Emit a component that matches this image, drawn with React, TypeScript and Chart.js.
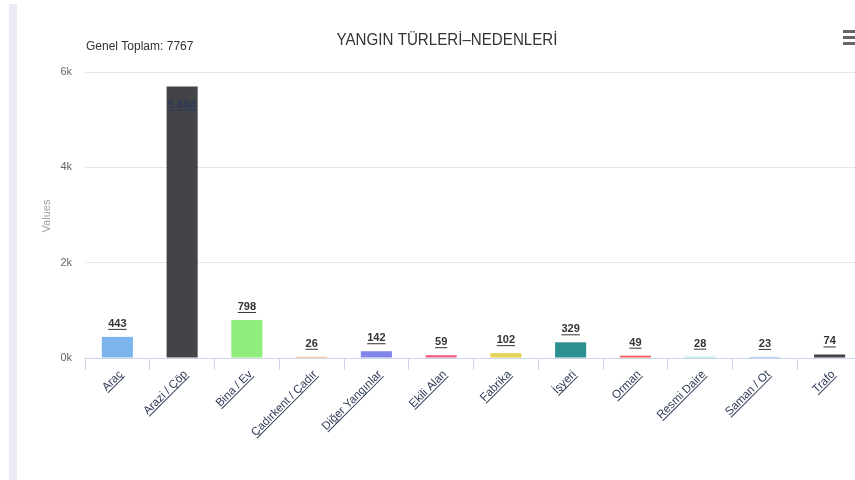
import React, { useEffect, useRef } from "react";
import { Chart, registerables } from "chart.js";

Chart.register(...registerables);

const categories = [
  "Araç",
  "Arazi / Çöp",
  "Bina / Ev",
  "Çadırkent / Çadır",
  "Diğer Yangınlar",
  "Ekili Alan",
  "Fabrika",
  "İşyeri",
  "Orman",
  "Resmi Daire",
  "Saman / Ot",
  "Trafo",
];
const values = [443, 5694, 798, 26, 142, 59, 102, 329, 49, 28, 23, 74];
const barColors = [
  "#7cb5ec",
  "#434348",
  "#90ed7d",
  "#f7a35c",
  "#8085e9",
  "#f15c80",
  "#e4d354",
  "#2b908f",
  "#f45b5b",
  "#91e8e1",
  "#7cb5ec",
  "#434348",
];
const yTickValues = [0, 2000, 4000, 6000];
const titleText = "YANGIN TÜRLERİ–NEDENLERİ";
const subtitleText = "Genel Toplam: 7767";
const yAxisTitle = "Values";

const FONT = '"Liberation Sans", Arial, sans-serif';

function formatValue(v: number): string {
  const s = String(v);
  return s.replace(/\B(?=(\d{3})+(?!\d))/g, ".");
}

const decorPlugin = {
  id: "decor",
  beforeDraw(chart: any) {
    const ctx = chart.ctx as CanvasRenderingContext2D;
    ctx.save();
    ctx.fillStyle = "#ffffff";
    ctx.fillRect(0, 0, chart.width, chart.height);
    ctx.fillStyle = "#ecebf5";
    ctx.fillRect(9, 4, 8, chart.height - 4);
    ctx.restore();
  },
  afterDraw(chart: any) {
    const ctx = chart.ctx as CanvasRenderingContext2D;
    const area = chart.chartArea;
    const xScale = chart.scales.x;
    const meta = chart.getDatasetMeta(0);

    ctx.save();
    // Title
    ctx.font = `16px ${FONT}`;
    ctx.fillStyle = "#333333";
    ctx.textAlign = "center";
    ctx.textBaseline = "alphabetic";
    const tw = ctx.measureText(titleText).width;
    const sx = 221 / tw;
    ctx.save();
    ctx.translate(447, 45);
    ctx.scale(sx, 1);
    ctx.fillText(titleText, 0, 0);
    ctx.restore();

    // Subtitle
    ctx.font = `12px ${FONT}`;
    ctx.textAlign = "left";
    ctx.fillStyle = "#333333";
    ctx.fillText(subtitleText, 86, 50);

    // Menu icon
    ctx.fillStyle = "#666666";
    [30, 36, 42].forEach((y) => ctx.fillRect(843, y, 14, 3));

    // Y axis title
    ctx.save();
    ctx.translate(47, (area.top + area.bottom) / 2 + 1);
    ctx.rotate(-Math.PI / 2);
    ctx.font = `11px ${FONT}`;
    ctx.fillStyle = "#a0a0a0";
    ctx.textAlign = "center";
    ctx.textBaseline = "middle";
    ctx.fillText(yAxisTitle, 0, 0);
    ctx.restore();

    // Data labels
    ctx.font = `bold 11px ${FONT}`;
    ctx.textAlign = "center";
    ctx.textBaseline = "alphabetic";
    meta.data.forEach((bar: any, i: number) => {
      const txt = formatValue(values[i]);
      let y = bar.y - 10;
      let color = "#333333";
      if (y - 10 < area.top) {
        y = bar.y + 21;
        color = "#2c3a5a";
      }
      const w = ctx.measureText(txt).width;
      ctx.fillStyle = color;
      ctx.fillText(txt, bar.x, y);
      ctx.fillRect(bar.x - w / 2, y + 2, w, 1);
    });

    // X labels (rotated, underlined)
    ctx.font = `11.5px ${FONT}`;
    categories.forEach((label, i) => {
      const px = xScale.getPixelForValue(i);
      ctx.save();
      ctx.translate(px + 3, area.bottom + 14);
      ctx.rotate(-Math.PI / 4);
      ctx.textAlign = "right";
      ctx.textBaseline = "alphabetic";
      ctx.fillStyle = "#2f3b57";
      ctx.fillText(label, 0, 4);
      const w = ctx.measureText(label).width;
      ctx.fillRect(-w, 5.5, w, 1);
      ctx.restore();
    });
    ctx.restore();
  },
};

export default function App() {
  const canvasRef = useRef<HTMLCanvasElement | null>(null);

  useEffect(() => {
    const canvas = canvasRef.current;
    if (!canvas) return;
    const chart = new Chart(canvas, {
      type: "bar",
      data: {
        labels: categories,
        datasets: [
          {
            data: values,
            backgroundColor: barColors,
            borderWidth: 0,
            barPercentage: 0.48,
            categoryPercentage: 1,
          },
        ],
      },
      options: {
        animation: false,
        responsive: false,
        maintainAspectRatio: false,
        devicePixelRatio: 1,
        layout: { padding: { left: 0, right: 18, top: 72, bottom: 0 } },
        plugins: {
          legend: { display: false },
          title: { display: false },
          tooltip: { enabled: false },
        },
        scales: {
          x: {
            grid: {
              display: true,
              drawOnChartArea: false,
              drawTicks: true,
              tickLength: 12,
              color: "#ccd6eb",
              offset: true,
            },
            border: { display: true, color: "#ccd6eb" },
            ticks: { color: "rgba(0,0,0,0)", maxRotation: 0, autoSkip: false },
            afterFit: (scale: any) => {
              scale.height = 480 - 358;
            },
          },
          y: {
            min: 0,
            max: 6000,
            afterBuildTicks: (scale: any) => {
              scale.ticks = yTickValues.map((v) => ({ value: v }));
            },
            ticks: {
              padding: 13,
              color: "#666666",
              font: { size: 11, family: FONT },
              callback: (v: any) => `${Number(v) / 1000}k`,
            },
            grid: { color: "#e6e6e6", drawTicks: false },
            border: { display: false },
            afterFit: (scale: any) => {
              scale.width = 85;
            },
          },
        },
      },
      plugins: [decorPlugin],
    });
    return () => chart.destroy();
  }, []);

  return (
    <div
      style={{
        position: "fixed",
        left: 0,
        top: 0,
        width: 855,
        height: 480,
        overflow: "hidden",
        background: "#fff",
      }}
    >
      <canvas
        ref={canvasRef}
        width={880}
        height={480}
        style={{ display: "block", width: 880, height: 480 }}
      />
    </div>
  );
}
